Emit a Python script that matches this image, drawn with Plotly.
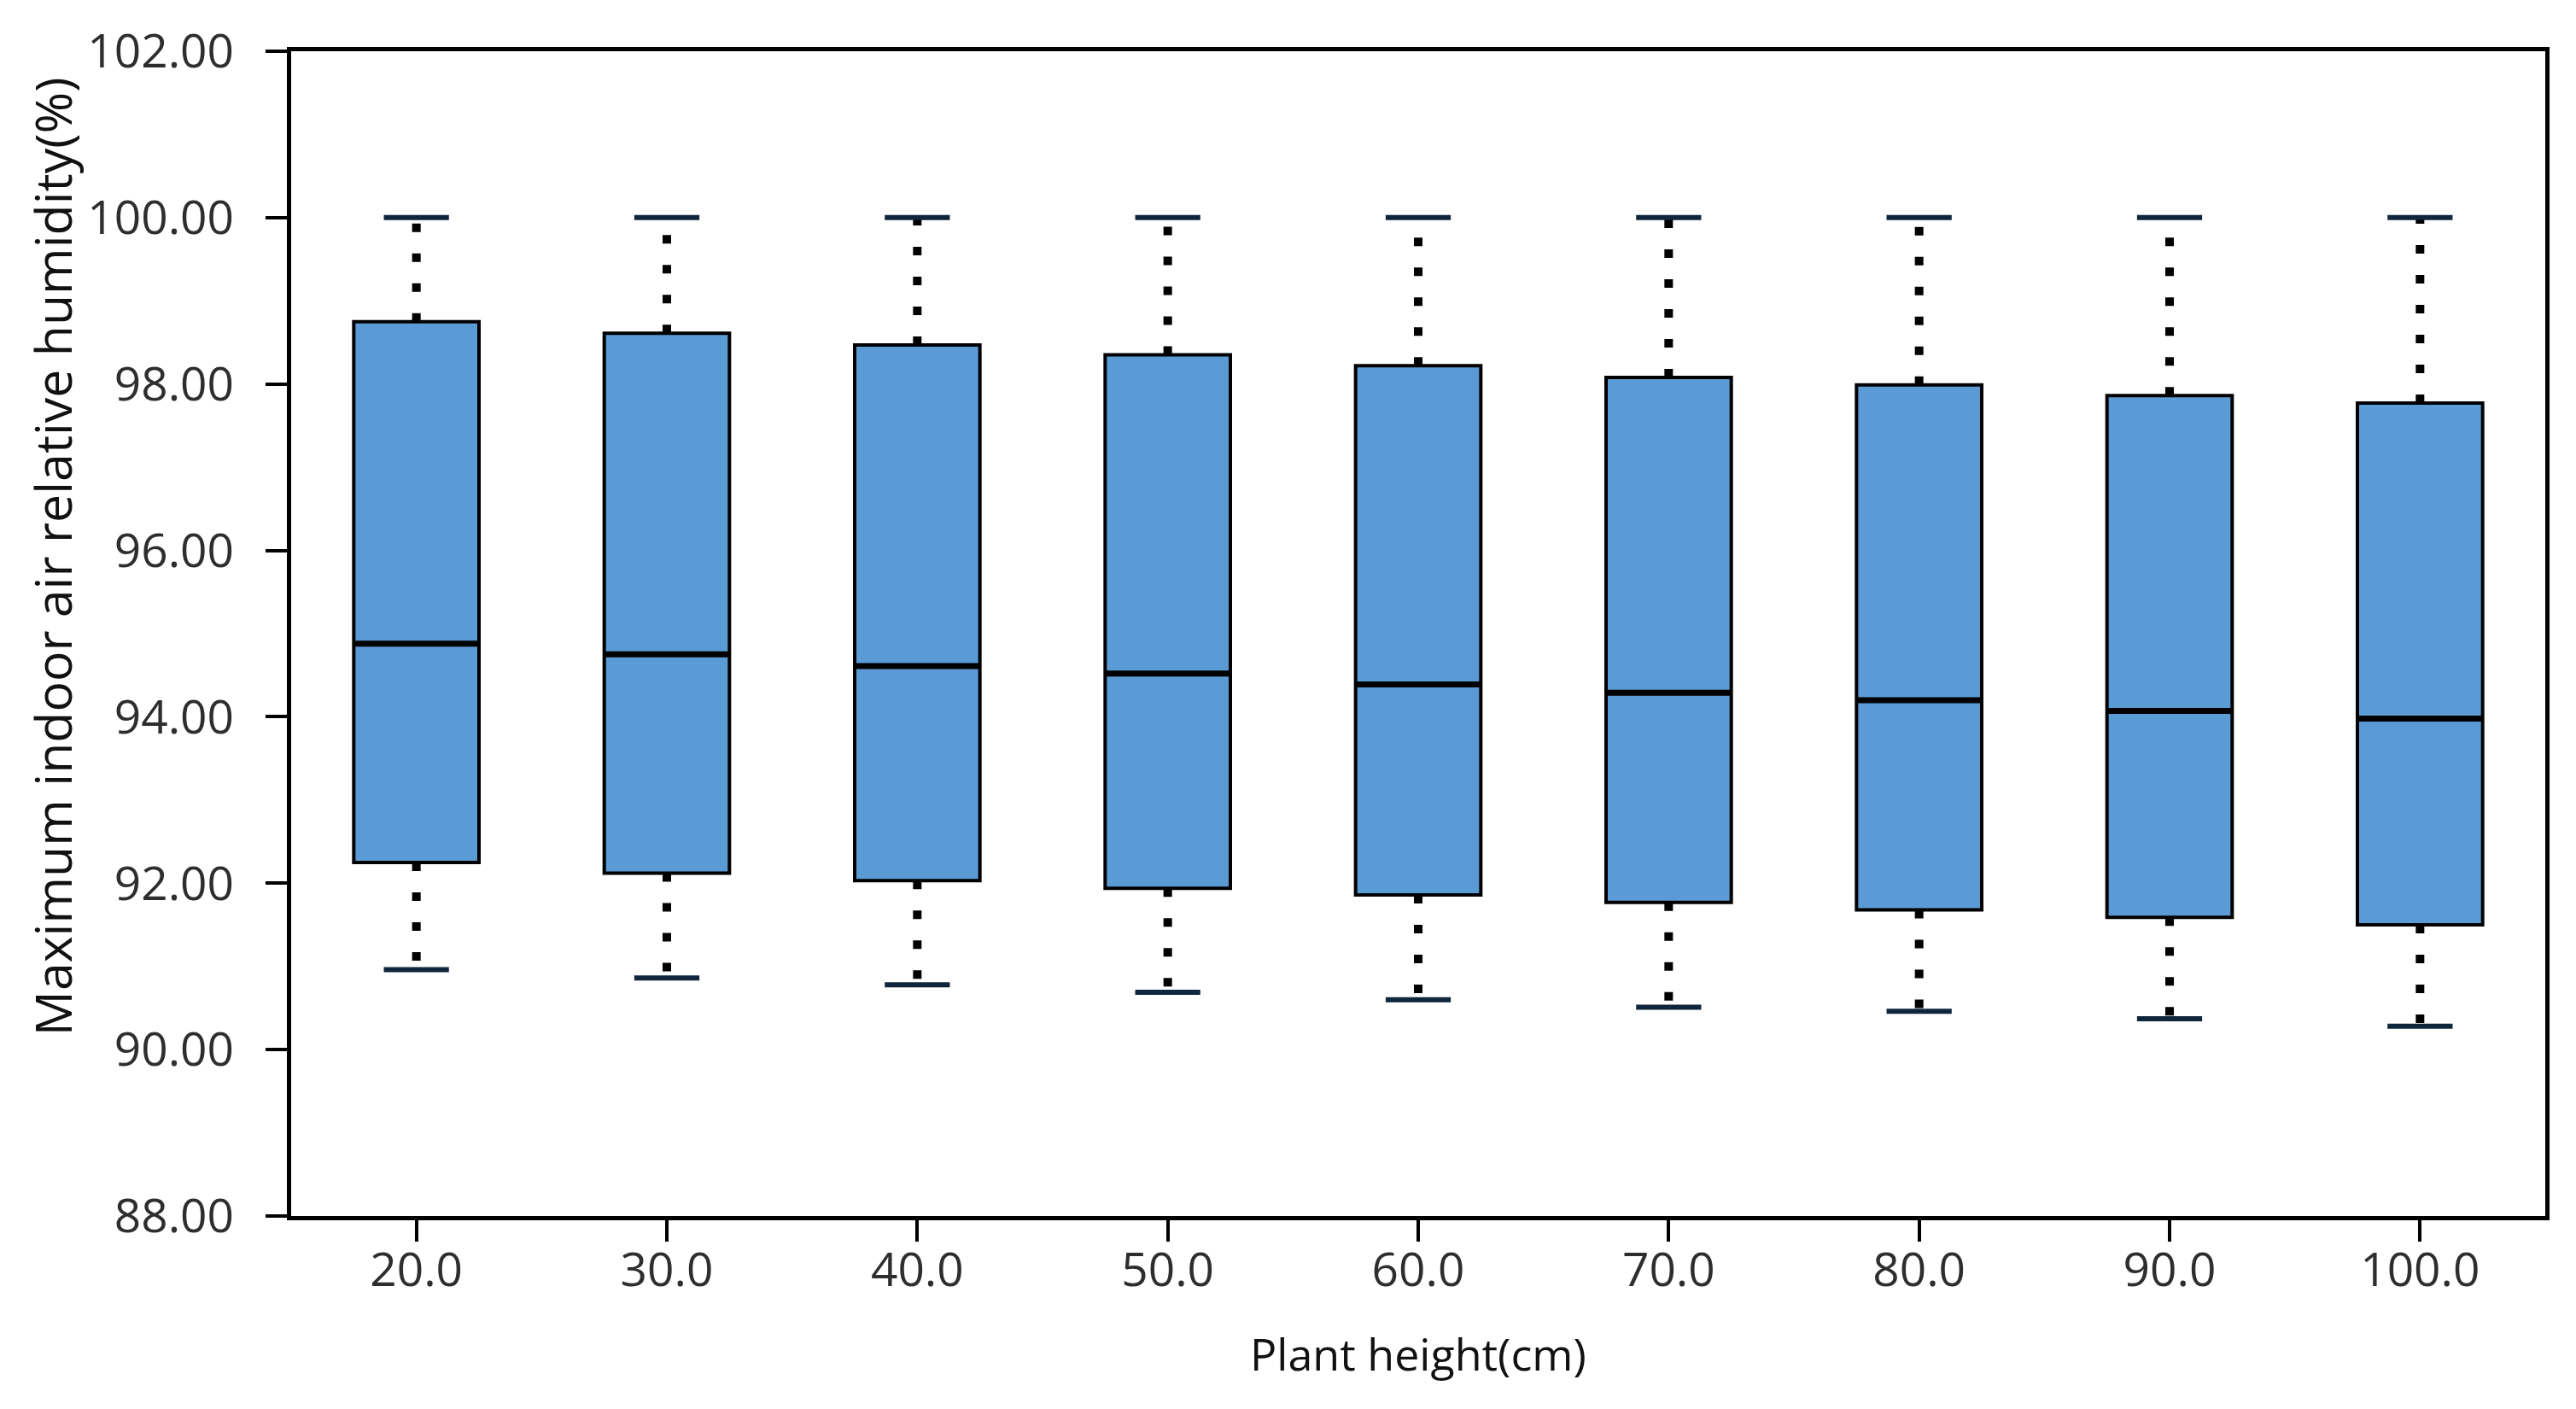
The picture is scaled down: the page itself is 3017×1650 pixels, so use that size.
import plotly.graph_objects as go

heights = [20, 30, 40, 50, 60, 70, 80, 90, 100]
tick_labels = ["20.0", "30.0", "40.0", "50.0", "60.0", "70.0", "80.0", "90.0", "100.0"]
maxima = [100.0, 100.0, 100.0, 100.0, 100.0, 100.0, 100.0, 100.0, 100.0]
q3 = [98.75, 98.61, 98.47, 98.35, 98.22, 98.08, 97.99, 97.86, 97.77]
medians = [94.88, 94.75, 94.61, 94.52, 94.39, 94.29, 94.20, 94.07, 93.98]
q1 = [92.25, 92.12, 92.03, 91.94, 91.86, 91.77, 91.68, 91.59, 91.50]
minima = [90.96, 90.86, 90.78, 90.69, 90.60, 90.51, 90.46, 90.37, 90.28]

BOX_W = 5.0
CAP_W = 2.6
FILL = "#5B9BD5"

fig = go.Figure()

# dotted whiskers
wx, wy = [], []
for h, a, b, c, d in zip(heights, q3, maxima, q1, minima):
    wx += [h, h, None, h, h, None]
    wy += [a, b, None, c, d, None]
fig.add_trace(go.Scatter(x=wx, y=wy, mode="lines",
                         line=dict(color="black", width=10, dash="10px,25px"),
                         showlegend=False, hoverinfo="skip"))

# caps
cx, cy = [], []
for h, b, d in zip(heights, maxima, minima):
    cx += [h - CAP_W / 2, h + CAP_W / 2, None, h - CAP_W / 2, h + CAP_W / 2, None]
    cy += [b, b, None, d, d, None]
fig.add_trace(go.Scatter(x=cx, y=cy, mode="lines",
                         line=dict(color="#10263d", width=6),
                         showlegend=False, hoverinfo="skip"))

# boxes
fig.add_trace(go.Box(x=heights, q1=q1, median=medians, q3=q3,
                     lowerfence=q1, upperfence=q3,
                     width=BOX_W, whiskerwidth=0,
                     fillcolor=FILL, line=dict(color="black", width=4),
                     boxpoints=False, showlegend=False))

# thick medians
mx, my = [], []
for h, m in zip(heights, medians):
    mx += [h - BOX_W / 2, h + BOX_W / 2, None]
    my += [m, m, None]
fig.add_trace(go.Scatter(x=mx, y=my, mode="lines",
                         line=dict(color="black", width=7),
                         showlegend=False, hoverinfo="skip"))

FONT = "Open Sans"
TICK_COLOR = "#2e2e2e"
fig.update_layout(
    width=3017, height=1650,
    margin=dict(l=333, r=44, t=42, b=234),
    paper_bgcolor="white", plot_bgcolor="white",
    font=dict(family=FONT, color="#333333", size=52),
    showlegend=False,
    xaxis=dict(range=[15, 105], tickvals=heights, ticktext=tick_labels,
               showline=True, linecolor="black", linewidth=5, mirror=True,
               ticks="outside", ticklen=25, tickwidth=4, tickcolor="black",
               showgrid=False, zeroline=False, ticklabelstandoff=-14,
               tickfont=dict(family=FONT, size=55, color=TICK_COLOR)),
    yaxis=dict(range=[88, 102], tickvals=[88, 90, 92, 94, 96, 98, 100, 102],
               tickformat=".2f",
               showline=True, linecolor="black", linewidth=5, mirror=True,
               ticks="outside", ticklen=25, tickwidth=4, tickcolor="black",
               showgrid=False, zeroline=False, ticklabelstandoff=26,
               tickfont=dict(family=FONT, size=55, color=TICK_COLOR)),
    annotations=[
        dict(text="Maximum indoor air relative humidity(%)", textangle=-90,
             xref="paper", yref="paper", x=-0.106, y=0.566,
             xanchor="center", yanchor="middle", showarrow=False,
             font=dict(family=FONT, size=59, color="#111111")),
        dict(text="Plant height(cm)",
             xref="paper", yref="paper", x=0.5, y=-0.118,
             xanchor="center", yanchor="middle", showarrow=False,
             font=dict(family=FONT, size=52, color="#111111")),
    ],
)

fig.write_html("out.html")
